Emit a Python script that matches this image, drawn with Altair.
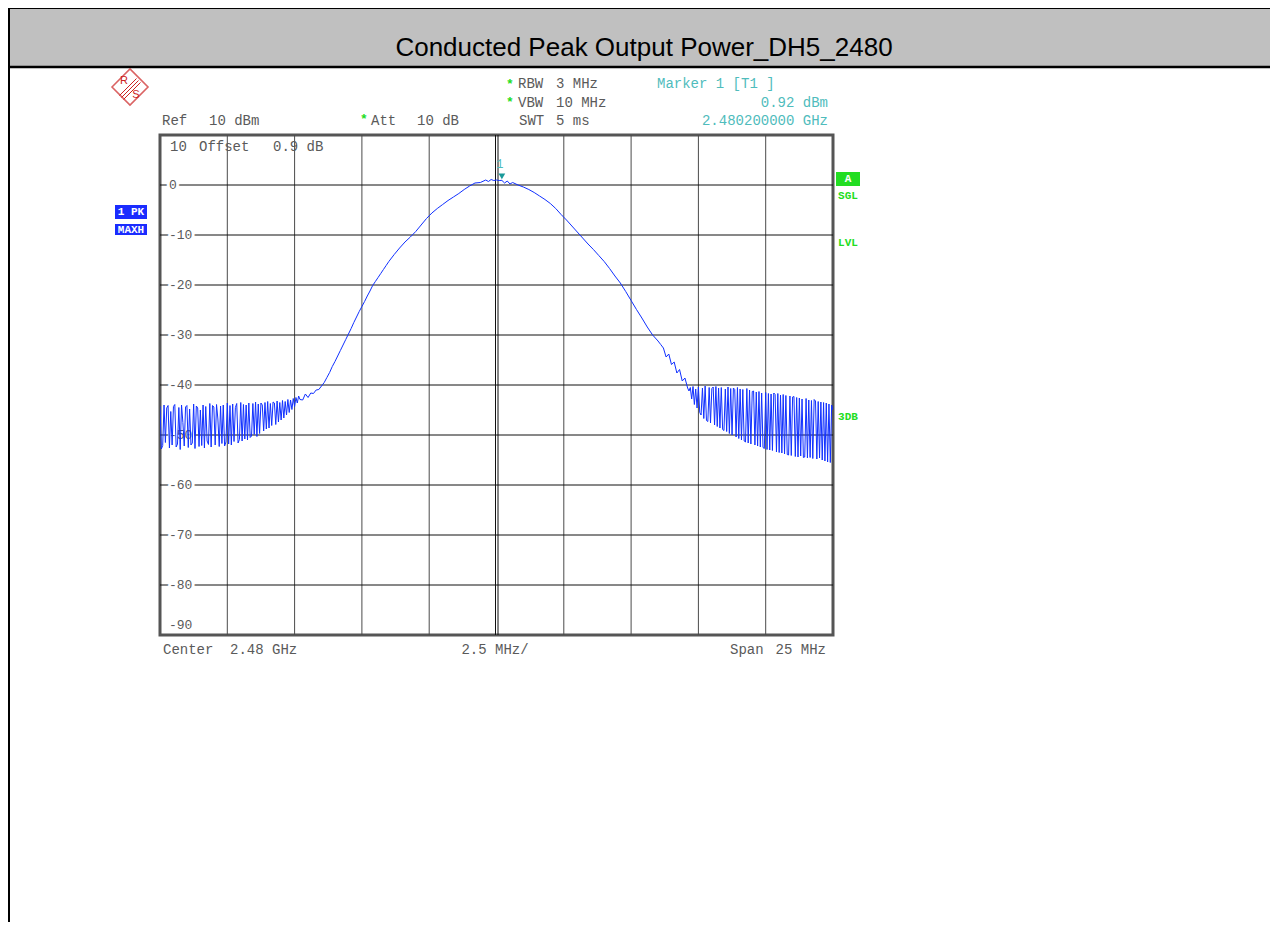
import altair as alt
import pandas as pd

TITLE = "Conducted Peak Output Power_DH5_2480"

# ---- measured trace: offset from 2.48 GHz centre (MHz) and level (dBm) ----
noise_left_mhz = [
    -12.50, -12.45, -12.40, -12.35, -12.30, -12.25, -12.20, -12.15, -12.10, -12.05,
    -12.00, -11.95, -11.90, -11.85, -11.80, -11.75, -11.70, -11.65, -11.60, -11.55,
    -11.50, -11.45, -11.40, -11.35, -11.30, -11.25, -11.20, -11.15, -11.10, -11.05,
    -11.00, -10.95, -10.90, -10.85, -10.80, -10.75, -10.70, -10.65, -10.60, -10.55,
    -10.50, -10.45, -10.40, -10.35, -10.30, -10.25, -10.20, -10.15, -10.10, -10.05,
    -10.00, -9.95, -9.90, -9.85, -9.80, -9.75, -9.70, -9.65, -9.60, -9.55,
    -9.50, -9.45, -9.40, -9.35, -9.30, -9.25, -9.20, -9.15, -9.10, -9.05,
    -9.00, -8.95, -8.90, -8.85, -8.80, -8.75, -8.70, -8.65, -8.60, -8.55,
    -8.50, -8.45, -8.40, -8.35, -8.30, -8.25, -8.20, -8.15, -8.10, -8.05,
    -8.00, -7.95, -7.90, -7.85, -7.80, -7.75, -7.70, -7.65, -7.60, -7.55,
    -7.50, -7.45, -7.40, -7.35, -7.30]
noise_left_dbm = [
    -44.2, -52.8, -52.1, -44.0, -51.5, -44.6, -44.1, -52.6, -45.3, -52.0,
    -44.3, -43.9, -52.4, -51.8, -44.5, -52.9, -44.0, -47.5, -52.2, -44.4,
    -44.1, -52.5, -44.8, -52.0, -51.6, -43.8, -52.7, -44.2, -44.6, -52.3,
    -45.0, -52.1, -44.0, -52.6, -44.3, -51.2, -51.9, -43.7, -52.4, -44.1,
    -44.4, -52.0, -43.9, -46.8, -52.3, -44.2, -51.7, -44.0, -52.2, -51.4,
    -43.6, -51.8, -44.1, -52.0, -43.8, -51.3, -44.5, -43.7, -51.6, -50.9,
    -43.5, -51.2, -43.9, -50.8, -44.0, -51.0, -43.6, -50.5, -50.2, -43.7,
    -49.9, -43.4, -50.3, -43.8, -49.7, -43.6, -44.0, -49.2, -43.5, -48.8,
    -43.3, -48.6, -43.7, -48.1, -43.4, -43.6, -47.9, -43.2, -47.4, -43.5,
    -47.0, -43.1, -46.6, -43.3, -46.0, -42.9, -45.5, -43.0, -44.9, -42.7,
    -44.3, -42.5, -43.6, -42.2, -42.9]

signal_mhz = [-7.2, -7.1, -7.0, -6.9, -6.8, -6.7, -6.6, -6.5, -6.4, -6.3,
              -6.2, -6.1, -6.0, -5.9, -5.8, -5.7, -5.6, -5.5, -5.4, -5.3,
              -5.2, -5.1, -5.0, -4.9, -4.8, -4.7, -4.6, -4.5, -4.4, -4.3,
              -4.2, -4.1, -4.0, -3.8, -3.6, -3.4, -3.2, -3.0, -2.8, -2.6,
              -2.4, -2.2, -2.0, -1.8, -1.6, -1.4, -1.2, -1.0, -0.8, -0.6,
              -0.4, -0.3, -0.2, -0.1, 0.0, 0.1, 0.2, 0.3, 0.4, 0.5,
              0.6, 0.8, 1.0, 1.2, 1.4, 1.6, 1.8, 2.0, 2.2, 2.4,
              2.6, 2.8, 3.0, 3.2, 3.4, 3.6, 3.8, 4.0, 4.2, 4.4,
              4.6, 4.8, 5.0, 5.2, 5.4, 5.6, 5.8, 6.0, 6.1, 6.2,
              6.3, 6.4, 6.5, 6.6, 6.7, 6.8, 6.9, 7.0, 7.1]
signal_dbm = [-43.0, -41.8, -42.5, -41.6, -41.7, -41.0, -40.9, -40.2, -39.5, -38.5,
              -37.5, -36.3, -35.3, -34.2, -33.1, -32.0, -30.9, -29.8, -28.7, -27.5,
              -26.4, -25.3, -24.3, -23.3, -22.2, -21.2, -20.1, -19.3, -18.5, -17.7,
              -16.9, -16.1, -15.3, -13.9, -12.6, -11.4, -10.4, -9.3, -8.0, -6.7,
              -5.6, -4.7, -3.9, -3.1, -2.4, -1.7, -0.9, -0.2, 0.4, 0.5,
              1.0, 0.7, 1.1, 0.9, 1.0, 0.9, 0.92, 0.4, 0.8, 0.2,
              0.5, 0.0, -0.4, -0.9, -1.5, -2.2, -2.9, -3.7, -4.7, -5.9,
              -7.0, -8.2, -9.4, -10.6, -11.8, -12.9, -14.1, -15.3, -16.7, -18.2,
              -19.6, -21.3, -23.1, -24.9, -26.6, -28.4, -30.0, -31.2, -31.9, -32.6,
              -34.4, -33.8, -35.9, -35.4, -37.6, -36.9, -39.2, -38.6, -40.6]

noise_right_mhz = [
    7.15, 7.20, 7.25, 7.30, 7.35, 7.40, 7.45, 7.50, 7.55, 7.60,
    7.65, 7.70, 7.75, 7.80, 7.85, 7.90, 7.95, 8.00, 8.05, 8.10,
    8.15, 8.20, 8.25, 8.30, 8.35, 8.40, 8.45, 8.50, 8.55, 8.60,
    8.65, 8.70, 8.75, 8.80, 8.85, 8.90, 8.95, 9.00, 9.05, 9.10,
    9.15, 9.20, 9.25, 9.30, 9.35, 9.40, 9.45, 9.50, 9.55, 9.60,
    9.65, 9.70, 9.75, 9.80, 9.85, 9.90, 9.95, 10.00, 10.05, 10.10,
    10.15, 10.20, 10.25, 10.30, 10.35, 10.40, 10.45, 10.50, 10.55, 10.60,
    10.65, 10.70, 10.75, 10.80, 10.85, 10.90, 10.95, 11.00, 11.05, 11.10,
    11.15, 11.20, 11.25, 11.30, 11.35, 11.40, 11.45, 11.50, 11.55, 11.60,
    11.65, 11.70, 11.75, 11.80, 11.85, 11.90, 11.95, 12.00, 12.05, 12.10,
    12.15, 12.20, 12.25, 12.30, 12.35, 12.40, 12.45, 12.50]
noise_right_dbm = [
    -41.2, -40.5, -42.8, -40.3, -43.9, -40.8, -44.6, -40.4, -45.5, -46.0,
    -40.6, -46.7, -40.2, -47.1, -47.3, -40.5, -47.6, -40.7, -40.4, -48.0,
    -40.3, -48.3, -40.6, -48.6, -40.5, -48.9, -49.1, -40.8, -49.3, -40.4,
    -49.7, -40.7, -50.0, -40.6, -40.9, -50.4, -40.5, -50.7, -40.8, -51.0,
    -40.9, -51.2, -51.4, -40.7, -51.6, -41.0, -51.8, -41.3, -41.2, -52.0,
    -41.4, -52.2, -41.3, -52.4, -41.6, -52.5, -52.7, -41.5, -52.9, -41.7,
    -53.0, -41.8, -53.1, -41.6, -41.9, -53.4, -41.7, -53.5, -42.0, -53.6,
    -41.9, -53.8, -42.1, -53.9, -54.0, -42.2, -54.1, -42.4, -42.3, -54.3,
    -42.5, -54.4, -42.6, -54.2, -42.8, -54.5, -54.4, -42.7, -54.6, -43.0,
    -54.5, -43.1, -54.7, -42.9, -43.2, -54.8, -43.3, -54.6, -43.4, -55.0,
    -43.5, -55.2, -43.6, -55.4, -43.8, -55.5, -44.0, -45.0]

x_grid_mhz = [-10, -7.5, -5, -2.5, 2.5, 5, 7.5, 10]
centre_mhz = [0]
y_grid_dbm = [0, -10, -20, -30, -40, -50, -60, -70, -80]
y_tick_text = ["0", "-10", "-20", "-30", "-40", "-50", "-60", "-70", "-80"]
bottom_dbm = [-90]
bottom_text = ["-90"]
marker_mhz = [0.2]
marker_dbm = [0.92]

MONO = "Liberation Mono"
SANS = "Liberation Sans"
GREY = "#5a5a5a"
CYAN = "#4fbcbc"
GREEN = "#22dd22"
BLUE = "#1030ff"
RED = "#cc2222"

trace = pd.DataFrame({
    "offset": noise_left_mhz + signal_mhz + noise_right_mhz,
    "level": noise_left_dbm + signal_dbm + noise_right_dbm,
})

XS = alt.Scale(domain=[-12.5, 12.5], nice=False, zero=False)
YS = alt.Scale(domain=[-90, 10], nice=False, zero=False)
DUMMY = alt.Data(values=[{}])


def txt(s, x, y, color=GREY, size=14, align="left", font=MONO, weight="normal"):
    return alt.Chart(DUMMY).mark_text(
        text=s, align=align, baseline="middle", font=font, fontSize=size,
        fontWeight=weight, color=color
    ).encode(x=alt.value(x), y=alt.value(y))


def rect(x, x2, y, y2, color):
    return alt.Chart(DUMMY).mark_rect(color=color).encode(
        x=alt.value(x), x2=alt.value(x2), y=alt.value(y), y2=alt.value(y2))


def line(x, y, x2, y2, color="black", width=1.0):
    return alt.Chart(DUMMY).mark_rule(color=color, strokeWidth=width).encode(
        x=alt.value(x), y=alt.value(y), x2=alt.value(x2), y2=alt.value(y2))


layers = []

# header band
layers += [
    rect(-152, 1110, -127, -68, "#c0c0c0"),
    line(-152, -127, 1110, -127, "black", 2),
    line(-152, -68, 1110, -68, "black", 2.5),
    line(-151, -127, -151, 787, "black", 2),
    txt(TITLE, 484, -87, "black", 26, "center", SANS),
]

# R&S logo
layers += [
    alt.Chart(DUMMY).mark_point(shape="diamond", size=1296, filled=False,
                                 color=RED, strokeWidth=1.6).encode(
        x=alt.value(-30), y=alt.value(-48)),
    line(-40.5, -39.5, -23.5, -56.5, RED, 1),
    line(-38.5, -37.5, -21.5, -54.5, RED, 1),
    line(-36.5, -35.5, -19.5, -52.5, RED, 1),
    txt("R", -36, -54, RED, 11, "center", SANS),
    txt("S", -24, -40, RED, 11, "center", SANS),
]

# settings text
layers += [
    txt("*", 350, -51, GREEN, 13, "center", MONO, "bold"),
    txt("*", 350, -33, GREEN, 13, "center", MONO, "bold"),
    txt("*", 204, -16, GREEN, 13, "center", MONO, "bold"),
    txt("RBW", 358, -51), txt("3 MHz", 396, -51),
    txt("VBW", 358, -32.5), txt("10 MHz", 396, -32.5),
    txt("SWT", 359, -14), txt("5 ms", 396, -14),
    txt("Ref", 2, -14), txt("10 dBm", 49, -14),
    txt("Att", 211, -14), txt("10 dB", 257, -14),
    txt("Marker 1 [T1 ]", 497, -51, CYAN),
    txt("0.92 dBm", 668, -32.5, CYAN, 14, "right"),
    txt("2.480200000 GHz", 668, -14, CYAN, 14, "right"),
    txt("Center", 3, 515), txt("2.48 GHz", 70, 515),
    txt("2.5 MHz/", 335, 515, GREY, 14, "center"),
    txt("Span", 570, 515), txt("25 MHz", 666, 515, GREY, 14, "right"),
]

# left trace badges
layers += [
    rect(-45, -13, 70, 84, "#1a2cff"),
    rect(-45, -13, 89, 100, "#1a2cff"),
    txt("1 PK", -29, 77, "white", 11, "center", MONO, "bold"),
    txt("MAXH", -29, 94.5, "white", 11, "center", MONO, "bold"),
]

# right status labels
layers += [
    rect(676, 700, 37, 51, GREEN),
    txt("A", 688, 44, "white", 11, "center", MONO, "bold"),
    txt("SGL", 688, 61, GREEN, 11, "center", MONO, "bold"),
    txt("LVL", 688, 108, GREEN, 11, "center", MONO, "bold"),
    txt("3DB", 688, 282, GREEN, 11, "center", MONO, "bold"),
]

# grid lines
xg = pd.DataFrame({"offset": x_grid_mhz})
yg = pd.DataFrame({"level": y_grid_dbm})
centre_df = pd.DataFrame({"offset": centre_mhz})
layers += [
    alt.Chart(xg).mark_rule(color="#4a4a4a", strokeWidth=1).encode(
        x=alt.X("offset:Q", scale=XS, axis=None)),
    alt.Chart(yg).mark_rule(color="#111111", strokeWidth=1).encode(
        y=alt.Y("level:Q", scale=YS, axis=None)),
    alt.Chart(centre_df).mark_rule(color="#111", strokeWidth=1, xOffset=-1).encode(
        x=alt.X("offset:Q", scale=XS, axis=None)),
    alt.Chart(centre_df).mark_rule(color="#111", strokeWidth=1, xOffset=1.5).encode(
        x=alt.X("offset:Q", scale=XS, axis=None)),
]

# y labels with white halo that breaks the grid line
ylab = pd.DataFrame({"level": y_grid_dbm, "lab": y_tick_text})
blab = pd.DataFrame({"level": bottom_dbm, "lab": bottom_text})
for halo in (True, False):
    kw = dict(align="left", baseline="middle", font=MONO, fontSize=13)
    if halo:
        kw.update(color="white", stroke="white", strokeWidth=6, strokeJoin="round")
    else:
        kw.update(color=GREY)
    layers.append(alt.Chart(ylab).mark_text(**kw).encode(
        x=alt.value(9), y=alt.Y("level:Q", scale=YS, axis=None), text="lab:N"))
layers.append(alt.Chart(blab).mark_text(align="left", baseline="middle", font=MONO,
                                        fontSize=13, color=GREY, dy=-10).encode(
    x=alt.value(9), y=alt.Y("level:Q", scale=YS, axis=None), text="lab:N"))
layers += [
    txt("10", 10, 11.5), txt("Offset", 39, 11.5), txt("0.9 dB", 113, 11.5),
]

# trace
layers.append(alt.Chart(trace).mark_line(color=BLUE, strokeWidth=1, clip=True).encode(
    x=alt.X("offset:Q", scale=XS, axis=None),
    y=alt.Y("level:Q", scale=YS, axis=None),
    order=alt.Order("offset:Q"),
))

# marker
mk = pd.DataFrame({"offset": marker_mhz, "level": marker_dbm})
layers += [
    alt.Chart(mk).mark_point(shape="triangle-down", filled=True, size=45,
                             color="#1a9a9a", opacity=1, yOffset=-4).encode(
        x=alt.X("offset:Q", scale=XS, axis=None), y=alt.Y("level:Q", scale=YS, axis=None)),
    alt.Chart(mk).mark_text(text="1", font=MONO, fontSize=12, color=CYAN,
                            dx=-2, dy=-16, baseline="middle").encode(
        x=alt.X("offset:Q", scale=XS, axis=None), y=alt.Y("level:Q", scale=YS, axis=None)),
]

chart = alt.layer(*layers).properties(
    width=673, height=500,
    padding={"left": 152, "top": 127, "right": 437, "bottom": 295},
    autosize=alt.AutoSizeParams(type="none"),
    background="white",
).configure_view(stroke="#555", strokeWidth=3)

chart.save("out.html", embed_options={"renderer": "svg", "actions": False})
